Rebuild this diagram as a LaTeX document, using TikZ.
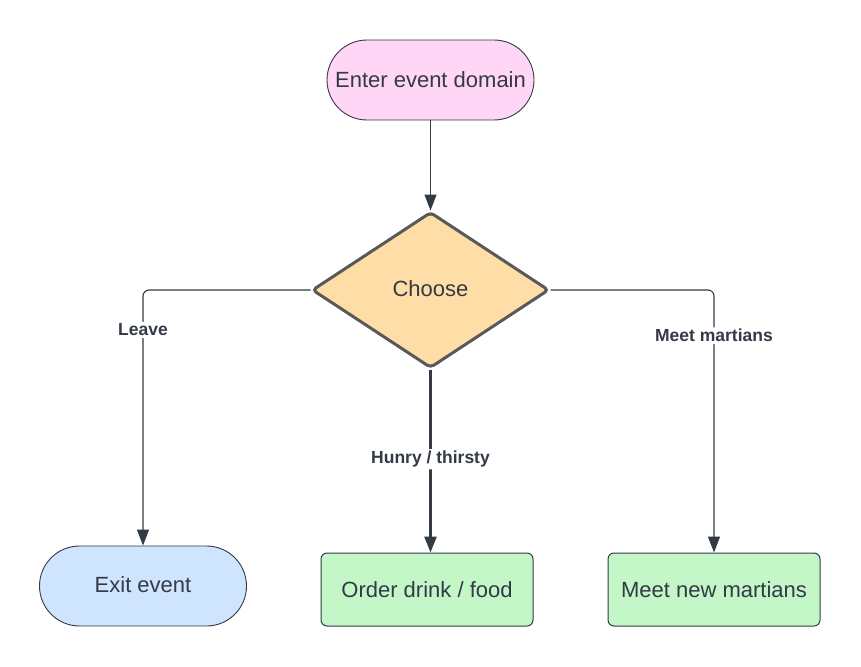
\documentclass[tikz,border=0pt]{standalone}
\usepackage{fontspec}
\setmainfont{Liberation Sans}
\usetikzlibrary{shapes.geometric,arrows.meta}
\definecolor{txt}{HTML}{333A45}
\definecolor{pinkf}{HTML}{FFD6F5}
\definecolor{orangef}{HTML}{FFDDA6}
\definecolor{bluef}{HTML}{CFE4FF}
\definecolor{greenf}{HTML}{C3F7C8}
\definecolor{edge}{HTML}{333A45}
\begin{document}
\begin{tikzpicture}[x=1pt,y=-1pt,
  every node/.style={text=txt},
  term/.style={draw=txt, line width=0.9pt, rounded corners=40pt, minimum width=207pt, minimum height=80pt, inner sep=0pt, font=\fontsize{22}{26}\selectfont},
  proc/.style={draw=txt, line width=1pt, rounded corners=6pt, minimum width=212pt, minimum height=73pt, inner sep=0pt, fill=greenf, font=\fontsize{22}{26}\selectfont},
  dec/.style={diamond, draw=black!65, line width=3pt, rounded corners=4pt, minimum width=237pt, minimum height=156pt, inner sep=0pt, fill=orangef, font=\fontsize{22}{26}\selectfont},
  conn/.style={draw=edge, line width=1.1pt, rounded corners=6pt, -{Triangle[length=16pt,width=12pt]}},
  thick conn/.style={conn, line width=2.6pt, -{Triangle[length=16pt,width=12pt]}},
  lbl/.style={fill=white, inner sep=2pt, font=\bfseries\fontsize{17.5}{20}\selectfont}
]
\useasboundingbox (0,0) rectangle (861,666);
\node[term, fill=pinkf] (enter) at (430.5,80) {Enter event domain};
\node[dec] (choose) at (430.5,290) {\raisebox{3pt}{Choose}};
\node[term, fill=bluef] (exit) at (143,586) {\raisebox{2pt}{Exit event}};
\node[proc] (order) at (427,589.5) {Order drink / food};
\node[proc] (meet) at (714,589.5) {Meet new martians};
\draw[conn] (enter.south) -- (choose.north);
\draw[conn] (choose.west) -| node[lbl, pos=0.578] (lleave) {Leave} (exit.north);
\draw[thick conn] (choose.south) -- node[lbl, pos=0.49] (lhun) {Hunry / thirsty} (choose.south |- order.north);
\draw[conn] (choose.east) -| node[lbl, pos=0.587] (lmeet) {Meet martians} (meet.north);
\end{tikzpicture}
\end{document}
